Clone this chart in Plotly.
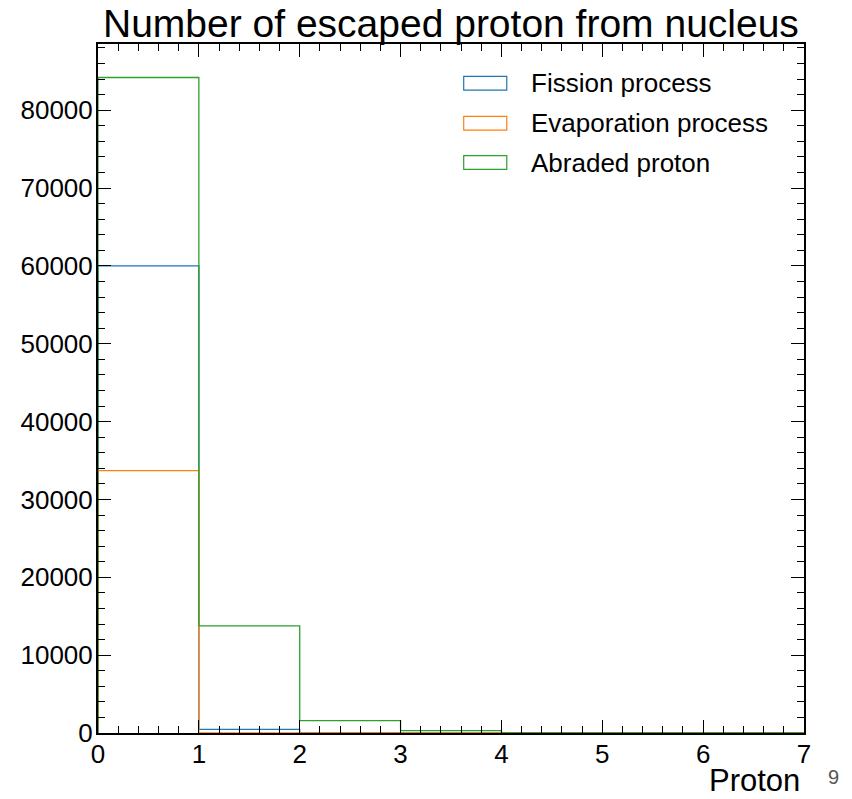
import plotly.graph_objects as go

# Bin edges and counts of escaped protons per event
edges = [0, 1, 2, 3, 4, 5, 6, 7]
fission = [60000, 470, 0, 0, 0, 0, 0]
evaporation = [33700, 0, 0, 0, 0, 0, 0]
abraded = [84200, 13750, 1580, 300, 0, 0, 0]

names = ["Fission process", "Evaporation process", "Abraded proton"]
colors = ["#1f77b4", "#ff7f0e", "#2ca02c"]
series = [fission, evaporation, abraded]

y_ticks = [0, 10000, 20000, 30000, 40000, 50000, 60000, 70000, 80000]
x_ticks = [0, 1, 2, 3, 4, 5, 6, 7]

FONT = "Liberation Sans"

fig = go.Figure()


def step_xy(edges, counts):
    # outline of a step histogram, closed to zero at both ends
    xs = [edges[0]] + list(edges) + [edges[-1]]
    ys = [0] + list(counts) + [counts[-1], 0]
    return xs, ys


for name, color, counts in zip(names, colors, series):
    xs, ys = step_xy(edges, counts)
    fig.add_trace(go.Scatter(
        x=xs, y=ys, mode="lines", name=name,
        line=dict(color=color, width=1.3, shape="hv"),
        showlegend=False, cliponaxis=True,
    ))

axis_common = dict(
    showline=True, linecolor="black", linewidth=2, mirror="allticks",
    ticks="inside", ticklen=13, tickwidth=1, tickcolor="black",
    showgrid=False, zeroline=False,
    tickfont=dict(family=FONT, size=26, color="black"),
)

fig.update_xaxes(
    range=[0, 7], tickvals=x_ticks, ticktext=[str(v) for v in x_ticks],
    minor=dict(dtick=0.2, ticks="inside", ticklen=7, tickwidth=1, tickcolor="black"),
    ticklabelstandoff=-3,
    **axis_common,
)
fig.update_yaxes(
    range=[0, 88500], tickvals=y_ticks, ticktext=[str(v) for v in y_ticks],
    minor=dict(dtick=2000, ticks="inside", ticklen=7, tickwidth=1, tickcolor="black"),
    ticklabelstandoff=-2,
    **axis_common,
)

# Legend drawn as outlined boxes with labels
legend_x0, legend_x1, text_x = 0.518, 0.579, 0.611
row_y = [0.943, 0.885, 0.828]
box_h = 0.02
for name, color, yy in zip(names, colors, row_y):
    fig.add_shape(type="rect", xref="paper", yref="paper",
                  x0=legend_x0, x1=legend_x1, y0=yy - box_h / 2, y1=yy + box_h / 2,
                  line=dict(color=color, width=1.2), fillcolor="rgba(0,0,0,0)")
    fig.add_annotation(xref="paper", yref="paper", x=text_x, y=yy,
                       text=name, showarrow=False, xanchor="left", yanchor="middle",
                       font=dict(family=FONT, size=26, color="black"))

fig.add_annotation(xref="paper", yref="paper", x=0.5, y=1, yshift=-3,
                   text="Number of escaped proton from nucleus", showarrow=False,
                   xanchor="center", yanchor="bottom",
                   font=dict(family=FONT, size=39, color="black"))

fig.add_annotation(xref="paper", yref="paper", x=1, y=0, xshift=-3, yshift=-66,
                   text="Proton", showarrow=False, xanchor="right", yanchor="bottom",
                   borderpad=0,
                   font=dict(family=FONT, size=31, color="black"))

fig.add_annotation(xref="paper", yref="paper", x=1, y=0, xshift=22, yshift=-44,
                   text="9", showarrow=False, xanchor="left", yanchor="middle",
                   font=dict(family=FONT, size=20, color="#555555"))

fig.update_layout(
    width=852, height=799,
    margin=dict(l=98, r=48, t=44, b=66),
    paper_bgcolor="white", plot_bgcolor="white",
    showlegend=False,
)

fig.write_html("out.html")
